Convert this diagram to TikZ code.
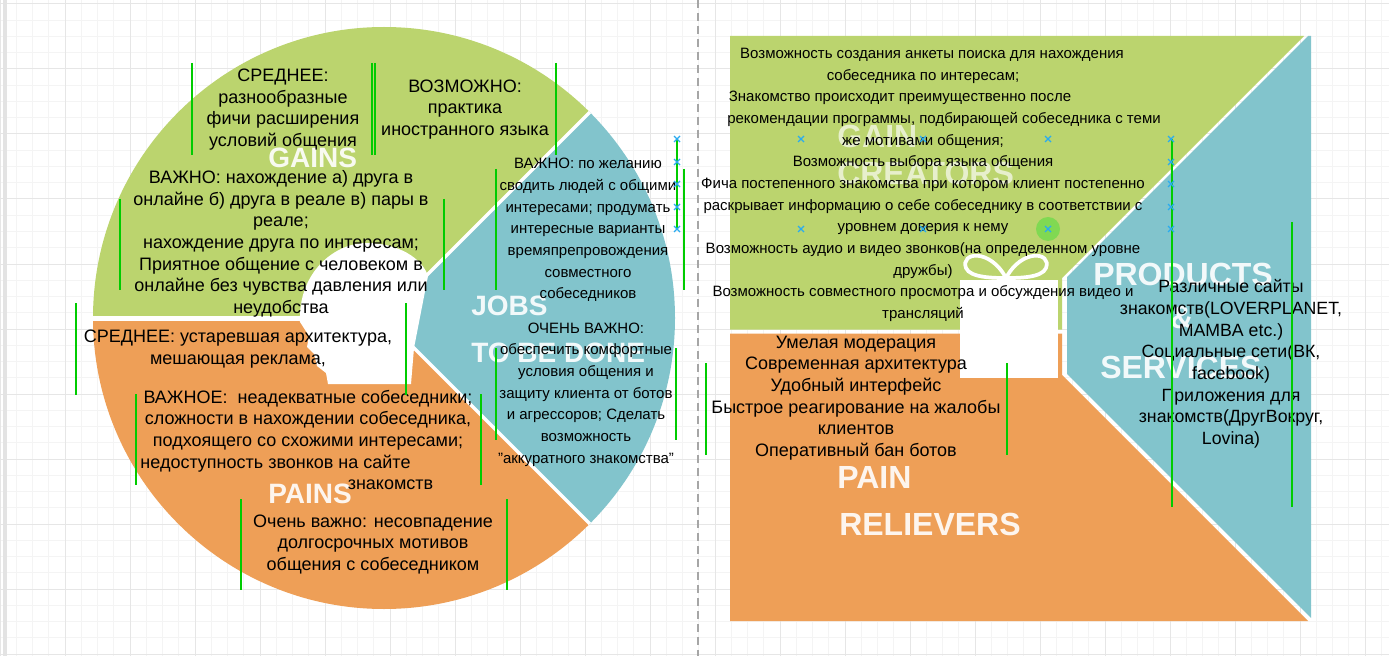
\documentclass[tikz,border=0pt]{standalone}
\usepackage{fontspec}
\setmainfont{Liberation Sans}
\definecolor{cgreen}{RGB}{187,212,110}
\definecolor{cblue}{RGB}{130,196,204}
\definecolor{corange}{RGB}{238,159,87}
\definecolor{gminor}{RGB}{244,244,244}
\definecolor{gmajor}{RGB}{230,230,230}
\definecolor{selgreen}{RGB}{0,204,0}
\definecolor{xblue}{RGB}{41,171,240}
\definecolor{hlgreen}{RGB}{122,218,80}
\newcommand\gedges[4]{\draw[gline] (#1,#2) -- (#1,#4) (#3,#2) -- (#3,#4);}
\newcommand\bluex[2]{\draw[xmk] (#1-3,#2-3) -- (#1+3,#2+3) (#1-3,#2+3) -- (#1+3,#2-3);}
\begin{document}
\begin{tikzpicture}[x=0.75pt,y=-0.75pt,
  bigtxt/.style={align=center, inner sep=0pt, text=black, font=\fontsize{13.5}{16.25}\selectfont},
  smalltxt/.style={align=center, inner sep=0pt, text=black, font=\fontsize{11.25}{16.25}\selectfont},
  prodtxt/.style={align=center, inner sep=0pt, text=black, font=\fontsize{13.3}{16.25}\selectfont},
  lbl/.style={anchor=base west, inner sep=0pt, text=white, text opacity=0.9, font=\fontsize{21}{21}\selectfont\bfseries},
  rlbl/.style={anchor=base west, inner sep=0pt, text=white, text opacity=0.9, font=\fontsize{24}{24}\selectfont\bfseries},
  gline/.style={draw=selgreen, line width=1.1pt},
  xmk/.style={draw=xblue, line width=0.9pt},
  gap/.style={draw=white, line width=2.4pt},
  hgap/.style={draw=white, line width=3.6pt}
]
\useasboundingbox (0,0) rectangle (1389,656);
\fill[white] (0,0) rectangle (1389,656);
% grid
\foreach \i in {0,...,85} {\draw[gminor, line width=0.75pt] ({\i*16.25},0) -- ({\i*16.25},656);}
\foreach \j in {0,...,40} {\draw[gminor, line width=0.75pt] (0,{4+\j*16.25}) -- (1389,{4+\j*16.25});}
\foreach \i in {0,...,21} {\draw[gmajor, line width=0.75pt] ({\i*65},0) -- ({\i*65},656);}
\foreach \j in {0,...,10} {\draw[gmajor, line width=0.75pt] (0,{4+\j*65}) -- (1389,{4+\j*65});}
\fill[gray!22] (2.5,0) rectangle (6.5,656);
\draw[gray!70, line width=1.1pt, dash pattern=on 6pt off 3.75pt] (698,0) -- (698,656);

% ---------- left circle ----------
\begin{scope}
  \clip (384,318) circle [radius=218.25pt];
  \fill[cgreen] (384,318) -- (60,318) -- (60,0) -- (702,0) -- cycle;
  \fill[cblue] (384,318) -- (702,0) -- (800,0) -- (800,700) -- (766,700) -- cycle;
  \fill[corange] (384,318) -- (766,700) -- (60,700) -- (60,318) -- cycle;
  \draw[hgap] (60,318.5) -- (384,318.5);
  \draw[gap] (384,318) -- (702,0);
  \draw[gap] (384,318) -- (766,700);
\end{scope}
\fill[white] (300,322) .. controls (298,272) and (335,243) .. (366,243)
  .. controls (398,243) and (422,258) .. (428,276) -- (414,348) -- (411,384)
  -- (328,384) -- (326,373) -- (317,366) -- (314,354) -- (307,347) -- (309,336) -- cycle;
\node[lbl] (gains) at (268,168) {GAINS};
\node[lbl] (jobs) at (471,315) {JOBS};
\node[lbl] (tbd) at (471,362) {TO BE DONE};
\node[lbl] (pains) at (268,503) {PAINS};

% ---------- right square ----------
\fill[cgreen] (730,36) -- (1304,36) -- (1062,278) -- (1062,329.5) -- (730,329.5) -- cycle;
\fill[cblue] (1308.2,36) -- (1311,36) -- (1311,618) -- (1067,374) -- (1067,277.2) -- cycle;
\fill[corange] (730,333.5) -- (1062,333.5) -- (1062,375) -- (1308,621) -- (730,621) -- cycle;
\fill[white] (960,280) rectangle (1058,378);
\draw[white, line width=2.8pt] (1006,278) .. controls (990,248) and (960,252) .. (966,268) .. controls (970,278) and (995,278) .. (1006,278);
\draw[white, line width=2.8pt] (1006,278) .. controls (1022,248) and (1052,252) .. (1046,268) .. controls (1042,278) and (1018,278) .. (1006,278);
\node[rlbl, text opacity=0.65] (gain) at (837,148) {GAIN};
\node[rlbl, text opacity=0.65] (creators) at (837,185) {CREATORS};
\node[rlbl] (products) at (1093,285) {PRODUCTS};
\node[rlbl, anchor=base] (amp) at (1182,328) {\&};
\node[rlbl] (services) at (1100,378) {SERVICES};
\node[rlbl] (pain) at (837,488) {PAIN};
\node[rlbl] (relievers) at (839,535) {RELIEVERS};

% ---------- texts ----------
\node[bigtxt] (tA) at (283,109.5) {СРЕДНЕЕ:\\разнообразные\\фичи расширения\\условий общения};
\node[bigtxt] (tB) at (465,109.5) {ВОЗМОЖНО:\\практика\\иностранного языка};
\node[bigtxt] (tC) at (281,244) {ВАЖНО: нахождение а) друга в\\онлайне б) друга в реале в) пары в\\реале;\\нахождение друга по интересам;\\Приятное общение с человеком в\\онлайне без чувства давления или\\неудобства};
\node[smalltxt] (tD) at (588,230) {ВАЖНО: по желанию\\сводить людей с общими\\интересами; продумать\\интересные варианты\\времяпрепровождения\\совместного\\собеседников};
\node[bigtxt] (tE) at (238,349) {СРЕДНЕЕ: устаревшая архитектура,\\мешающая реклама,};
\node[bigtxt] (tF) at (308,440) {ВАЖНОЕ:~~неадекватные собеседники;\\сложности в нахождении собеседника,\\подхоящего со схожими интересами;\\недоступность звонков на сайте\rule{48.75pt}{0pt}\\\rule{123.75pt}{0pt}знакомств};
\node[smalltxt] (tG) at (586,394.5) {ОЧЕНЬ ВАЖНО:\\обеспечить комфортные\\условия общения и\\защиту клиента от ботов\\и агрессоров; Сделать\\возможность\\"аккуратного знакомства"};
\node[bigtxt] (tH) at (373,544.5) {Очень важно: несовпадение\\долгосрочных мотивов\\общения с собеседником};
\node[smalltxt] (tI) at (923,185) {\rule{13.5pt}{0pt}Возможность создания анкеты поиска для нахождения\\собеседника по интересам;\\Знакомство происходит преимущественно после\rule{34.5pt}{0pt}\\\rule{31.5pt}{0pt}рекомендации программы, подбирающей собеседника с теми\\же мотивами общения;\\Возможность выбора языка общения\\Фича постепенного знакомства при котором клиент постепенно\\раскрывает информацию о себе собеседнику в соответствии с\\уровнем доверия к нему\\Возможность аудио и видео звонков(на определенном уровне\\дружбы)\\Возможность совместного просмотра и обсуждения видео и\\трансляций};
\node[prodtxt] (tJ) at (1231,364) {Различные сайты\\знакомств(LOVERPLANET,\\MAMBA etc.)\\Социальные сети(ВК,\\facebook)\\Приложения для\\знакомств(ДругВокруг,\\Lovina)};
\node[bigtxt] (tK) at (856,398) {Умелая модерация\\Современная архитектура\\Удобный интерфейс\\Быстрое реагирование на жалобы\\клиентов\\Оперативный бан ботов};

% ---------- green box edges ----------
\gedges{192}{63}{372}{155}
\gedges{375}{63}{556}{155}
\gedges{120}{199}{444}{290}
\gedges{496}{169}{684}{290}
\draw[gline] (677,139) -- (677,230);
\gedges{76}{303}{406}{395}
\gedges{136}{394}{481}{485}
\gedges{496}{348}{676}{440}
\gedges{241}{499}{507}{590}
\gedges{706}{363}{1007}{455}
\draw[gline] (1172,139) -- (1172,507);
\draw[gline] (1292,222) -- (1292,507);

% ---------- selection marks ----------
\fill[hlgreen, opacity=0.9] (1048,229) circle [radius=9pt];
\foreach \y in {139,162,184,207,229} {\bluex{677}{\y}}
\foreach \y in {139,162,184,207,229} {\bluex{1171}{\y}}
\foreach \x in {801,923,1048} {\bluex{\x}{139}\bluex{\x}{229}}
\end{tikzpicture}
\end{document}
